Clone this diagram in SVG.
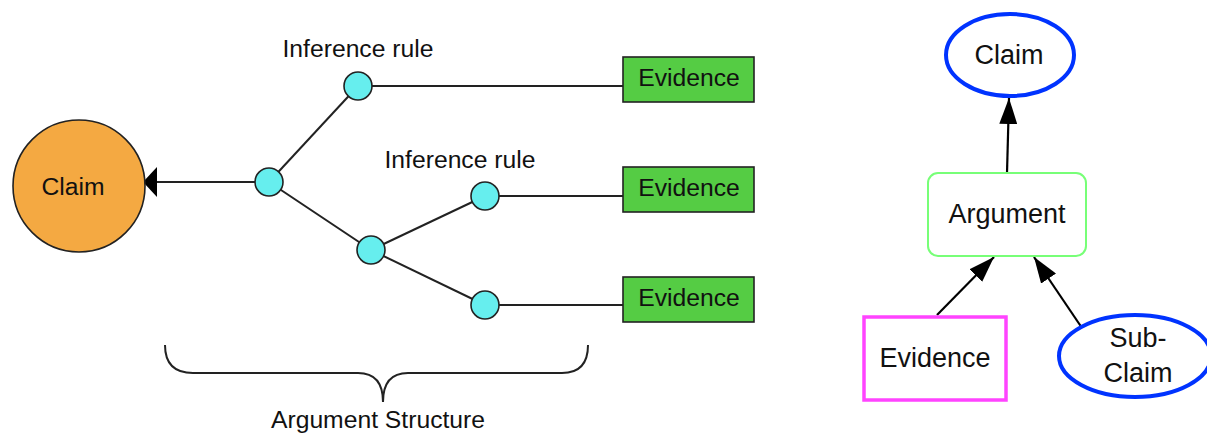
<svg xmlns="http://www.w3.org/2000/svg" width="1207" height="437" viewBox="0 0 1207 437">
<style>
text{font-family:"Liberation Sans",Arial,sans-serif;fill:#111}
.lbl{font-size:24.7px}
.rt{font-size:27px}
.edge{stroke:#222;stroke-width:2;fill:none}
.node{fill:#66eeee;stroke:#222;stroke-width:1.6}
.ev{fill:#55cc44;stroke:#222;stroke-width:1.6}
.rarrow{stroke:#000;stroke-width:2.2;fill:none;marker-end:url(#ah)}
.ell{fill:#fff;stroke:#0033ff;stroke-width:4}
</style>
<defs>
<marker id="ah" markerUnits="userSpaceOnUse" markerWidth="26" markerHeight="18" refX="26" refY="9" orient="auto" viewBox="0 0 26 18">
<path d="M0,0 L26,9 L0,18 z" fill="#000"/>
</marker>
</defs>
<rect width="1207" height="437" fill="#fff"/>
<g id="connectors">
<line class="edge" x1="157" y1="182" x2="269" y2="182"/>
<polygon points="143,182 157,167 157,197" fill="#000"/>
<line class="edge" x1="269" y1="182" x2="358" y2="86"/>
<line class="edge" x1="269" y1="182" x2="371" y2="250"/>
<line class="edge" x1="371" y1="250" x2="485" y2="196"/>
<line class="edge" x1="371" y1="250" x2="485" y2="305"/>
<line class="edge" x1="358" y1="86" x2="623" y2="86"/>
<line class="edge" x1="485" y1="196" x2="623" y2="196"/>
<line class="edge" x1="485" y1="305" x2="623" y2="305"/>
<line class="rarrow" x1="1007" y1="173" x2="1009" y2="98"/>
<line class="rarrow" x1="937" y1="315" x2="994" y2="257"/>
<line class="rarrow" x1="1082" y1="328" x2="1034" y2="257"/>
</g>
<g id="claim-left">
<circle cx="79" cy="186" r="66" fill="#f4a942" stroke="#222" stroke-width="1.6"/>
<text class="lbl" x="73" y="195" text-anchor="middle">Claim</text>
</g>
<g id="hub"><circle class="node" cx="269" cy="182" r="14"/></g>
<g id="rule1">
<circle class="node" cx="358" cy="86" r="14"/>
<text class="lbl" x="358" y="57" text-anchor="middle">Inference rule</text>
</g>
<g id="mid"><circle class="node" cx="371" cy="250" r="14"/></g>
<g id="rule2">
<circle class="node" cx="485" cy="196" r="14"/>
<text class="lbl" x="460" y="168" text-anchor="middle">Inference rule</text>
</g>
<g id="rule3"><circle class="node" cx="485" cy="305" r="14"/></g>
<g id="evidence1">
<rect class="ev" x="623" y="57" width="131" height="45"/>
<text class="lbl" x="689" y="86" text-anchor="middle">Evidence</text>
</g>
<g id="evidence2">
<rect class="ev" x="623" y="167" width="131" height="45"/>
<text class="lbl" x="689" y="196" text-anchor="middle">Evidence</text>
</g>
<g id="evidence3">
<rect class="ev" x="623" y="277" width="131" height="45"/>
<text class="lbl" x="689" y="306" text-anchor="middle">Evidence</text>
</g>
<g id="brace">
<path class="edge" stroke-width="1.6" d="M165,345 Q165,373 193,373 L358,373 Q383,373 383,402 Q383,373 408,373 L562,373 Q588,373 588,345"/>
<text class="lbl" x="378" y="428" text-anchor="middle">Argument Structure</text>
</g>
<g id="claim-right">
<ellipse class="ell" cx="1010" cy="55" rx="64" ry="41"/>
<text class="rt" x="1009" y="64" text-anchor="middle">Claim</text>
</g>
<g id="argument">
<rect x="928" y="173" width="158" height="83" rx="10" fill="#fff" stroke="#77ff77" stroke-width="2"/>
<text class="rt" x="1007" y="223" text-anchor="middle">Argument</text>
</g>
<g id="evidence-right">
<rect x="864" y="317" width="142" height="83" fill="#fff" stroke="#ff44ff" stroke-width="3.5"/>
<text class="rt" x="935" y="367" text-anchor="middle">Evidence</text>
</g>
<g id="subclaim">
<ellipse class="ell" cx="1135" cy="356" rx="76" ry="41"/>
<text class="rt" x="1138" y="347" text-anchor="middle">Sub-</text>
<text class="rt" x="1138" y="382" text-anchor="middle">Claim</text>
</g>
</svg>
